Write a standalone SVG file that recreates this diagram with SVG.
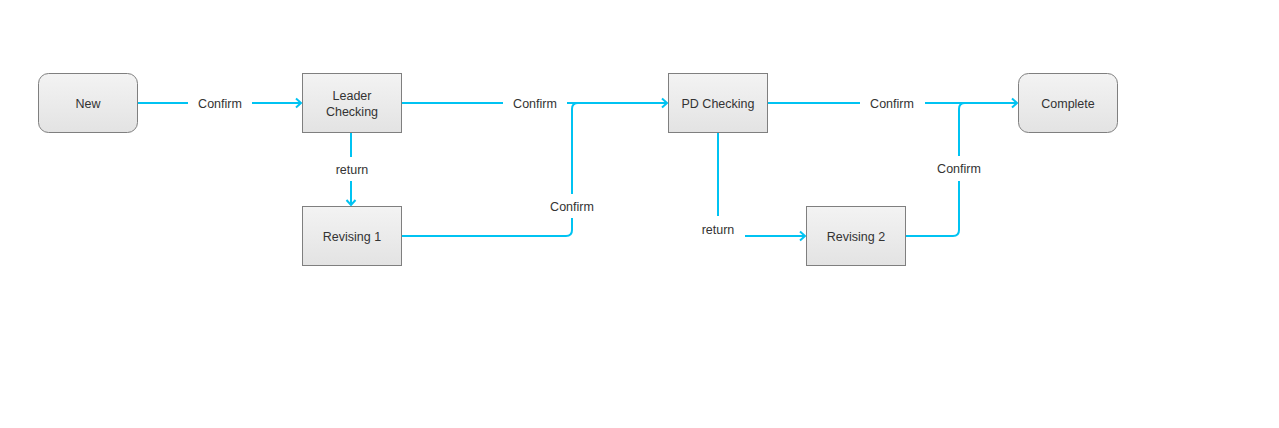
<svg xmlns="http://www.w3.org/2000/svg" width="1279" height="428" viewBox="0 0 1279 428">
<defs>
<linearGradient id="g" x1="0" y1="0" x2="0" y2="1">
<stop offset="0" stop-color="#f3f3f3"/>
<stop offset="1" stop-color="#e3e3e3"/>
</linearGradient>
<marker id="arr" markerWidth="12" markerHeight="12" refX="9" refY="6" orient="auto" markerUnits="userSpaceOnUse">
<path d="M4,1.5 L9,6 L4,10.5" fill="none" stroke="#00c3f2" stroke-width="2"/>
</marker>
<style>
.n{fill:url(#g);stroke:#7f7f7f;stroke-width:1}
.t{font-family:"Liberation Sans",Arial,sans-serif;font-size:12.5px;fill:#333;text-anchor:middle}
.c{fill:none;stroke:#00c3f2;stroke-width:2}
.lb{fill:#fff}
</style>
</defs>
<rect width="1279" height="428" fill="#fff"/>
<g id="connectors">
<path class="c" d="M137,103 H301" marker-end="url(#arr)"/>
<path class="c" d="M401,103 H667" marker-end="url(#arr)"/>
<path class="c" d="M401,236 H566 Q572,236 572,230 V109 Q572,103 578,103"/>
<path class="c" d="M351,132 V205" marker-end="url(#arr)"/>
<path class="c" d="M767,103 H1017" marker-end="url(#arr)"/>
<path class="c" d="M905,236 H953 Q959,236 959,230 V109 Q959,103 965,103"/>
<path class="c" d="M718,132 V236 H805" marker-end="url(#arr)"/>
<rect class="lb" x="188" y="94" width="64" height="18"/>
<text class="t" x="220" y="108">Confirm</text>
<rect class="lb" x="503" y="94" width="64" height="18"/>
<text class="t" x="535" y="108">Confirm</text>
<rect class="lb" x="545" y="194" width="54" height="24"/>
<text class="t" x="572" y="211">Confirm</text>
<rect class="lb" x="328" y="157" width="46" height="24"/>
<text class="t" x="352" y="174">return</text>
<rect class="lb" x="860" y="94" width="65" height="18"/>
<text class="t" x="892" y="108">Confirm</text>
<rect class="lb" x="932" y="156" width="54" height="25"/>
<text class="t" x="959" y="173">Confirm</text>
<rect class="lb" x="694" y="216" width="51" height="30"/>
<text class="t" x="718" y="234">return</text>
</g>
<g id="new"><rect class="n" x="38.5" y="73.5" width="99" height="59" rx="10"/><text class="t" x="88" y="108">New</text></g>
<g id="leader"><rect class="n" x="302.5" y="73.5" width="99" height="59"/><text class="t" x="352" y="100">Leader</text><text class="t" x="352" y="116">Checking</text></g>
<g id="revising1"><rect class="n" x="302.5" y="206.5" width="99" height="59"/><text class="t" x="352" y="241">Revising 1</text></g>
<g id="pd"><rect class="n" x="668.5" y="73.5" width="99" height="59"/><text class="t" x="718" y="108">PD Checking</text></g>
<g id="complete"><rect class="n" x="1018.5" y="73.5" width="99" height="59" rx="10"/><text class="t" x="1068" y="108">Complete</text></g>
<g id="revising2"><rect class="n" x="806.5" y="206.5" width="99" height="59"/><text class="t" x="856" y="241">Revising 2</text></g>
</svg>
